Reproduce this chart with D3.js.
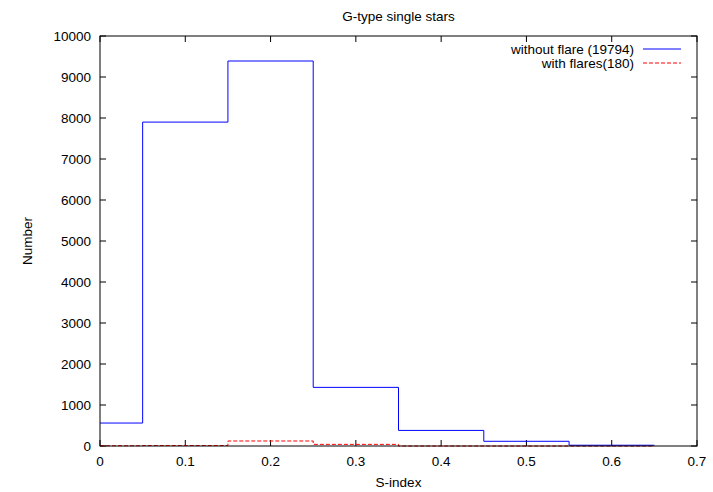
<!DOCTYPE html>
<html><head><meta charset="utf-8">
<script src="https://cdn.jsdelivr.net/npm/d3@7"></script>
<style>body{margin:0;background:#fff}svg{display:block}text{font-family:"Liberation Sans",Arial,sans-serif;font-size:13.5px;fill:#000}</style>
</head><body>
<svg id="c" width="713" height="492"></svg>
<script>
const binEdges = [0, 0.05, 0.15, 0.25, 0.35, 0.45, 0.55, 0.65];
const withoutFlare = [560, 7900, 9390, 1430, 380, 115, 19];
const withFlares = [6, 12, 122, 40, 0, 0, 0];
const xTicks = [0, 0.1, 0.2, 0.3, 0.4, 0.5, 0.6, 0.7];
const yTicks = [0, 1000, 2000, 3000, 4000, 5000, 6000, 7000, 8000, 9000, 10000];
const titleText = "G-type single stars";
const xLabel = "S-index", yLabel = "Number";
const legendLabels = ["without flare (19794)", "with flares(180)"];

const L = 100, R = 697, T = 36, B = 446;
const svg = d3.select("#c");
const x = d3.scaleLinear().domain([0, 0.7]).range([L, R]);
const y = d3.scaleLinear().domain([0, 10000]).range([B, T]);

const tl = 6;
const g = svg.append("g");
xTicks.forEach(t => {
  g.append("line").attr("x1", x(t)).attr("x2", x(t)).attr("y1", B).attr("y2", B - tl).attr("stroke", "#000");
  g.append("line").attr("x1", x(t)).attr("x2", x(t)).attr("y1", T).attr("y2", T + tl).attr("stroke", "#000");
  g.append("text").attr("x", x(t)).attr("y", B + 20).attr("text-anchor", "middle").text(d3.format("")(t));
});
yTicks.forEach(t => {
  g.append("line").attr("x1", L).attr("x2", L + tl).attr("y1", y(t)).attr("y2", y(t)).attr("stroke", "#000");
  g.append("line").attr("x1", R).attr("x2", R - tl).attr("y1", y(t)).attr("y2", y(t)).attr("stroke", "#000");
  g.append("text").attr("x", L - 9).attr("y", y(t) + 5).attr("text-anchor", "end").text(t);
});

function stepPath(vals) {
  const pts = [];
  vals.forEach((v, i) => {
    pts.push([x(binEdges[i]), y(v)]);
    pts.push([x(binEdges[i + 1]), y(v)]);
  });
  return d3.line()(pts);
}
svg.append("path").attr("d", stepPath(withFlares)).attr("fill", "none")
  .attr("stroke", "#ff0000").attr("stroke-width", 1).attr("stroke-dasharray", "4,2");
svg.append("path").attr("d", stepPath(withoutFlare)).attr("fill", "none")
  .attr("stroke", "#0000ff").attr("stroke-width", 1);

svg.append("rect").attr("x", L).attr("y", T).attr("width", R - L).attr("height", B - T)
  .attr("fill", "none").attr("stroke", "#000").attr("stroke-width", 1);

svg.append("text").attr("x", (L + R) / 2).attr("y", 21).attr("text-anchor", "middle").text(titleText);
svg.append("text").attr("x", (L + R) / 2).attr("y", 487).attr("text-anchor", "middle").text(xLabel);
svg.append("text").attr("transform", `translate(32,${(T + B) / 2}) rotate(-90)`).attr("text-anchor", "middle").text(yLabel);

const lg = svg.append("g");
legendLabels.forEach((s, i) => {
  const ly = 49 + i * 14;
  lg.append("text").attr("x", 634).attr("y", ly + 5).attr("text-anchor", "end").text(s);
  lg.append("line").attr("x1", 643).attr("x2", 681).attr("y1", ly).attr("y2", ly)
    .attr("stroke", i === 0 ? "#0000ff" : "#ff0000")
    .attr("stroke-dasharray", i === 0 ? null : "4,2");
});
</script>
</body></html>
